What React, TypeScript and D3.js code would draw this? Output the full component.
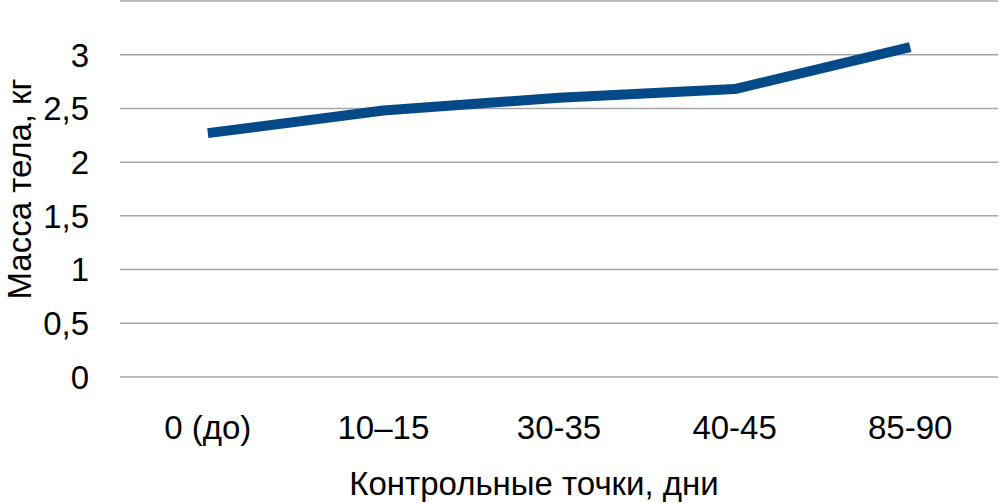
import * as d3 from 'd3';
import React, { useEffect, useRef } from 'react';

// control points (days) and body mass (kg)
const categories = ['0 (до)', '10–15', '30-35', '40-45', '85-90'];
const massValues = [2.27, 2.48, 2.6, 2.68, 3.07];
const yTicks = [0, 0.5, 1, 1.5, 2, 2.5, 3, 3.5];

const WIDTH = 999;
const HEIGHT = 503;

const App = () => {
   const svgRef = useRef<SVGSVGElement | null>(null);

   useEffect(() => {
      const svgEl = svgRef.current;
      if (!svgEl) {
         return;
      }
      const svg = d3.select(svgEl);
      svg.selectAll('*').remove();

      const margin = { top: 1, right: 1, bottom: 126, left: 120 };
      const innerWidth = WIDTH - margin.left - margin.right;
      const innerHeight = HEIGHT - margin.top - margin.bottom;
      const font = '"Liberation Sans", Arial, sans-serif';

      const g = svg
         .append('g')
         .attr('transform', `translate(${margin.left},${margin.top})`);

      const xScale = d3
         .scaleBand<string>()
         .domain(categories)
         .range([0, innerWidth]);

      const yScale = d3.scaleLinear().domain([0, 3.5]).range([innerHeight, 0]);

      // horizontal grid
      g.selectAll('line.grid')
         .data(yTicks)
         .enter()
         .append('line')
         .attr('class', 'grid')
         .attr('x1', 0)
         .attr('x2', innerWidth)
         .attr('y1', (d) => yScale(d))
         .attr('y2', (d) => yScale(d))
         .attr('stroke', '#a6a6a6')
         .attr('stroke-width', 1.5);

      // y tick labels (skip the top one, as in the original)
      g.selectAll('text.ytick')
         .data(yTicks.filter((d) => d < 3.5))
         .enter()
         .append('text')
         .attr('class', 'ytick')
         .attr('x', -31)
         .attr('y', (d) => yScale(d))
         .attr('dy', '0.36em')
         .attr('text-anchor', 'end')
         .attr('font-family', font)
         .attr('font-size', 33)
         .attr('fill', '#000')
         .text((d) => String(d).replace('.', ','));

      // x tick labels
      g.selectAll('text.xtick')
         .data(categories)
         .enter()
         .append('text')
         .attr('class', 'xtick')
         .attr('x', (d) => (xScale(d) ?? 0) + xScale.bandwidth() / 2)
         .attr('y', innerHeight + 62)
         .attr('text-anchor', 'middle')
         .attr('font-family', font)
         .attr('font-size', 33)
         .attr('fill', '#000')
         .text((d) => d);

      // line
      const lineGen = d3
         .line<number>()
         .x((_, i) => (xScale(categories[i]) ?? 0) + xScale.bandwidth() / 2)
         .y((v) => yScale(v));

      g.append('path')
         .datum(massValues)
         .attr('fill', 'none')
         .attr('stroke', '#054a88')
         .attr('stroke-width', 10)
         .attr('stroke-linejoin', 'round')
         .attr('d', lineGen);

      // axis titles
      svg.append('text')
         .attr('x', margin.left + innerWidth / 2 - 25)
         .attr('y', 495)
         .attr('text-anchor', 'middle')
         .attr('font-family', font)
         .attr('font-size', 33)
         .attr('fill', '#000')
         .text('Контрольные точки, дни');

      svg.append('text')
         .attr('transform', `translate(31,${margin.top + yScale(1.75)}) rotate(-90)`)
         .attr('text-anchor', 'middle')
         .attr('font-family', font)
         .attr('font-size', 33)
         .attr('fill', '#000')
         .text('Масса тела, кг');
   }, []);

   return (
      <svg
         ref={svgRef}
         width={WIDTH}
         height={HEIGHT}
         style={{ position: 'absolute', left: 0, top: 0, background: '#fff' }}
      />
   );
};

export default App;
